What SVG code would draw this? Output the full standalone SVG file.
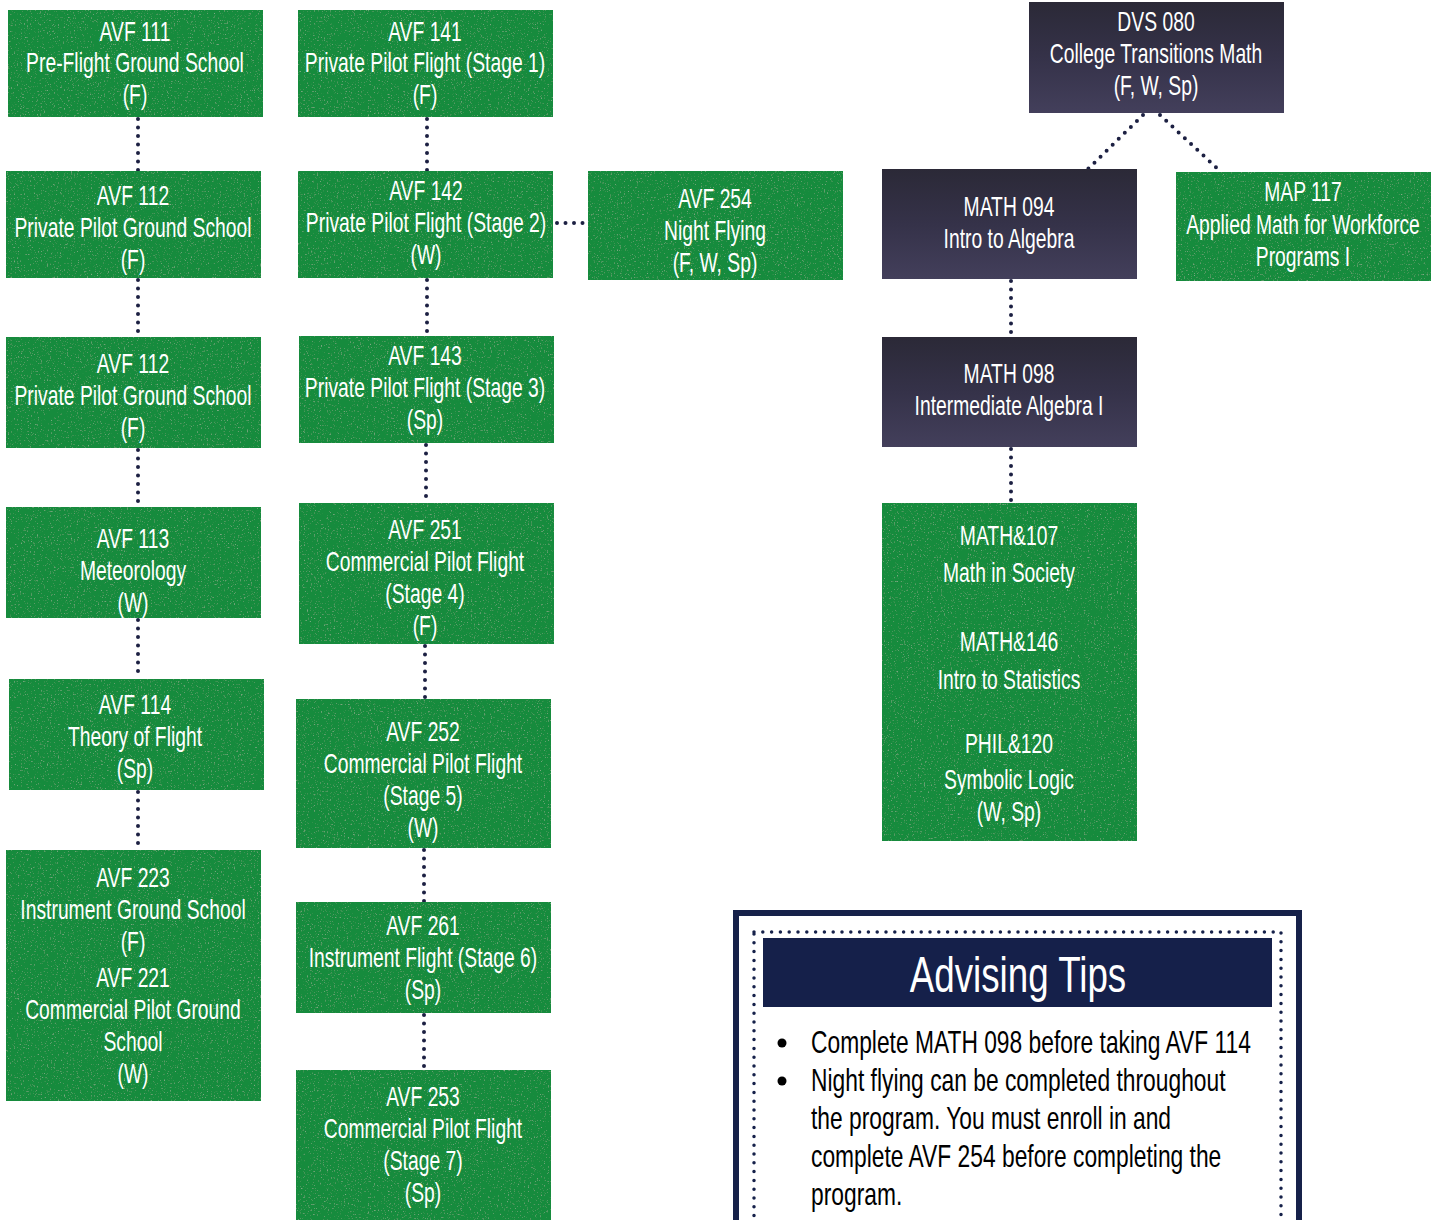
<svg xmlns="http://www.w3.org/2000/svg" width="1437" height="1220" viewBox="0 0 1437 1220">
<defs>
<filter id="speck" x="0" y="0" width="100%" height="100%">
<feTurbulence type="fractalNoise" baseFrequency="0.7" numOctaves="2" seed="4" result="n"/>
<feColorMatrix in="n" type="matrix" values="0 0 0 0 1  0 0 0 0 1  0 0 0 0 1  4 0 0 0 -2.5" result="w"/>
<feComposite in="w" in2="SourceAlpha" operator="in" result="ws"/>
<feComponentTransfer in="ws" result="wf"><feFuncA type="linear" slope="0.2"/></feComponentTransfer>
<feMerge><feMergeNode in="SourceGraphic"/><feMergeNode in="wf"/></feMerge>
</filter>
<linearGradient id="dark" x1="0" y1="0" x2="0" y2="1">
<stop offset="0" stop-color="#2b2937"/>
<stop offset="0.5" stop-color="#353249"/>
<stop offset="1" stop-color="#433f5b"/>
</linearGradient>
<style>
.g{fill:#178b3d;filter:url(#speck)}
.d{fill:url(#dark)}
.t{font-family:'Liberation Sans',Arial,sans-serif;font-size:27px;fill:#ffffff;text-anchor:middle}
.c{fill:none;stroke:#1c2042;stroke-width:4;stroke-linecap:round;stroke-dasharray:0 8.5}
.b{font-family:'Liberation Sans',Arial,sans-serif;font-size:31px;fill:#000000}
</style>
</defs>
<rect width="1437" height="1220" fill="#ffffff"/>

<g id="connectors">
<path class="c" d="M138 119V171M138 280V337M138 450V507M138 620V679M138 792V850"/>
<path class="c" d="M427 119V171M427 280V336M426 445V503M425 646V699M424 850V902M424 1015V1070"/>
<path class="c" d="M557 223H586"/>
<path class="c" d="M1143 115L1088 169M1160 115L1220 171"/>
<path class="c" d="M1011 281V337M1011 449V503"/>
</g>

<g id="avf111"><rect class="g" x="8" y="10" width="255" height="107"/>
<g transform="translate(135 -1) scale(0.715 1)" class="t"><text x="0" y="42">AVF 111</text><text x="0" y="73">Pre-Flight Ground School</text><text x="0" y="105">(F)</text></g></g>

<g id="avf112a"><rect class="g" x="6" y="171" width="255" height="107"/>
<g transform="translate(133 -1) scale(0.715 1)" class="t"><text x="0" y="206">AVF 112</text><text x="0" y="238">Private Pilot Ground School</text><text x="0" y="270">(F)</text></g></g>

<g id="avf112b"><rect class="g" x="6" y="337" width="255" height="111"/>
<g transform="translate(133 -1) scale(0.715 1)" class="t"><text x="0" y="374">AVF 112</text><text x="0" y="406">Private Pilot Ground School</text><text x="0" y="438">(F)</text></g></g>

<g id="avf113"><rect class="g" x="6" y="507" width="255" height="111"/>
<g transform="translate(133 -1) scale(0.715 1)" class="t"><text x="0" y="549">AVF 113</text><text x="0" y="581">Meteorology</text><text x="0" y="613">(W)</text></g></g>

<g id="avf114"><rect class="g" x="9" y="679" width="255" height="111"/>
<g transform="translate(135 -1) scale(0.715 1)" class="t"><text x="0" y="715">AVF 114</text><text x="0" y="747">Theory of Flight</text><text x="0" y="779">(Sp)</text></g></g>

<g id="avf223"><rect class="g" x="6" y="850" width="255" height="251"/>
<g transform="translate(133 -1) scale(0.715 1)" class="t"><text x="0" y="888">AVF 223</text><text x="0" y="920">Instrument Ground School</text><text x="0" y="952">(F)</text><text x="0" y="988">AVF 221</text><text x="0" y="1020">Commercial Pilot Ground</text><text x="0" y="1052">School</text><text x="0" y="1084">(W)</text></g></g>

<g id="avf141"><rect class="g" x="298" y="10" width="255" height="107"/>
<g transform="translate(425 -1) scale(0.715 1)" class="t"><text x="0" y="42">AVF 141</text><text x="0" y="73">Private Pilot Flight (Stage 1)</text><text x="0" y="105">(F)</text></g></g>

<g id="avf142"><rect class="g" x="298" y="171" width="255" height="107"/>
<g transform="translate(426 -1) scale(0.715 1)" class="t"><text x="0" y="201">AVF 142</text><text x="0" y="233">Private Pilot Flight (Stage 2)</text><text x="0" y="265">(W)</text></g></g>

<g id="avf143"><rect class="g" x="299" y="336" width="255" height="107"/>
<g transform="translate(425 -1) scale(0.715 1)" class="t"><text x="0" y="366">AVF 143</text><text x="0" y="398">Private Pilot Flight (Stage 3)</text><text x="0" y="430">(Sp)</text></g></g>

<g id="avf251"><rect class="g" x="299" y="503" width="255" height="141"/>
<g transform="translate(425 -1) scale(0.715 1)" class="t"><text x="0" y="540">AVF 251</text><text x="0" y="572">Commercial Pilot Flight</text><text x="0" y="604">(Stage 4)</text><text x="0" y="636">(F)</text></g></g>

<g id="avf252"><rect class="g" x="296" y="699" width="255" height="149"/>
<g transform="translate(423 -1) scale(0.715 1)" class="t"><text x="0" y="742">AVF 252</text><text x="0" y="774">Commercial Pilot Flight</text><text x="0" y="806">(Stage 5)</text><text x="0" y="838">(W)</text></g></g>

<g id="avf261"><rect class="g" x="296" y="902" width="255" height="111"/>
<g transform="translate(423 -1) scale(0.715 1)" class="t"><text x="0" y="936">AVF 261</text><text x="0" y="968">Instrument Flight (Stage 6)</text><text x="0" y="1000">(Sp)</text></g></g>

<g id="avf253"><rect class="g" x="296" y="1070" width="255" height="150"/>
<g transform="translate(423 -1) scale(0.715 1)" class="t"><text x="0" y="1107">AVF 253</text><text x="0" y="1139">Commercial Pilot Flight</text><text x="0" y="1171">(Stage 7)</text><text x="0" y="1203">(Sp)</text></g></g>

<g id="avf254"><rect class="g" x="588" y="171" width="255" height="109"/>
<g transform="translate(715 -1) scale(0.715 1)" class="t"><text x="0" y="209">AVF 254</text><text x="0" y="241">Night Flying</text><text x="0" y="273">(F, W, Sp)</text></g></g>

<g id="dvs080"><rect class="d" x="1029" y="2" width="255" height="111"/>
<g transform="translate(1156 -1) scale(0.715 1)" class="t"><text x="0" y="32">DVS 080</text><text x="0" y="64">College Transitions Math</text><text x="0" y="96">(F, W, Sp)</text></g></g>

<g id="math094"><rect class="d" x="882" y="169" width="255" height="110"/>
<g transform="translate(1009 -1) scale(0.715 1)" class="t"><text x="0" y="217">MATH 094</text><text x="0" y="249">Intro to Algebra</text></g></g>

<g id="map117"><rect class="g" x="1176" y="172" width="255" height="109"/>
<g transform="translate(1303 -1) scale(0.715 1)" class="t"><text x="0" y="202">MAP 117</text><text x="0" y="235">Applied Math for Workforce</text><text x="0" y="267">Programs I</text></g></g>

<g id="math098"><rect class="d" x="882" y="337" width="255" height="110"/>
<g transform="translate(1009 -1) scale(0.715 1)" class="t"><text x="0" y="384">MATH 098</text><text x="0" y="416">Intermediate Algebra I</text></g></g>

<g id="math107"><rect class="g" x="882" y="503" width="255" height="338"/>
<g transform="translate(1009 -1) scale(0.715 1)" class="t"><text x="0" y="546">MATH&amp;107</text><text x="0" y="583">Math in Society</text><text x="0" y="652">MATH&amp;146</text><text x="0" y="690">Intro to Statistics</text><text x="0" y="754">PHIL&amp;120</text><text x="0" y="790">Symbolic Logic</text><text x="0" y="822">(W, Sp)</text></g></g>

<g id="advising">
<rect x="736" y="913" width="563" height="330" fill="#ffffff" stroke="#16214a" stroke-width="6"/>
<rect x="754" y="932" width="527" height="310" fill="none" stroke="#16214a" stroke-width="3.5" stroke-linecap="round" stroke-dasharray="0 8.8"/>
<rect x="763" y="938" width="509" height="69" fill="#15204a"/>
<g transform="translate(1018 0) scale(0.75 1)"><text x="0" y="992" class="t" style="font-size:49px">Advising Tips</text></g>
<circle cx="782" cy="1043" r="4.5" fill="#000"/>
<circle cx="782" cy="1081" r="4.5" fill="#000"/>
<g transform="translate(811 0) scale(0.736 1)" class="b">
<text x="0" y="1053">Complete MATH 098 before taking AVF 114</text>
<text x="0" y="1091">Night flying can be completed throughout</text>
<text x="0" y="1129">the program. You must enroll in and</text>
<text x="0" y="1167">complete AVF 254 before completing the</text>
<text x="0" y="1205">program.</text>
</g>
</g>
</svg>
